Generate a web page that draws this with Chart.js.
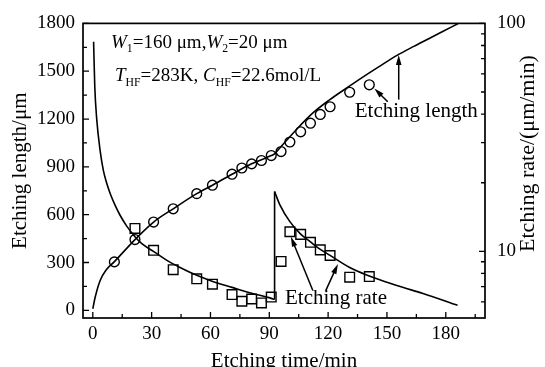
<!DOCTYPE html>
<html><head><meta charset="utf-8">
<script src="https://cdn.jsdelivr.net/npm/chart.js@4.4.1/dist/chart.umd.min.js"></script>
<style>html,body{margin:0;padding:0;background:#fff;}#wrap{width:545px;height:367px;}</style>
</head><body><div id="wrap"><canvas id="c" width="545" height="367"></canvas></div>
<script>
// ---- tick values ----
const xTicks = [0, 30, 60, 90, 120, 150, 180];
const xMinorTicks = [15, 45, 75, 105, 135, 165, 195];
const yLeftTicks = [0, 300, 600, 900, 1200, 1500, 1800];
const yLeftMinorTicks = [150, 450, 750, 1050, 1350, 1650];
const yRightTicks = [10, 100];
const yRightMinorTicks = [6, 7, 8, 9, 20, 30, 40, 50, 60, 70, 80, 90];

// ---- measured points ----
const sampleTime = [11, 21.5, 31, 41, 53, 61, 71, 76, 81, 86, 91, 96, 100.5, 106, 111, 116, 121, 131, 141];
const lengthMeasured = [304, 444, 554, 637, 732, 785, 854, 893, 919, 940, 971, 996, 1056, 1120, 1174, 1229, 1277, 1368, 1415];
const rateTime = [21.5, 31, 41, 53, 61, 71, 76, 81, 86, 91, 96, 100.5, 106, 111, 116, 121, 131, 141];
const rateMeasured = [12.6, 10.1, 8.31, 7.58, 7.18, 6.46, 6.04, 6.18, 5.94, 6.30, 9.03, 12.19, 11.87, 10.96, 10.15, 9.59, 7.70, 7.75];

// ---- model curves ----
const lengthModelTime = [0, 1.2, 3.7, 7.1, 10.9, 21.5, 31, 41, 53, 61, 71, 81, 91, 92.7, 95.5, 104.1, 112.4, 120.9, 129.5, 137.7, 146.4, 154.9, 163.7, 171.8, 178.9, 186.2];
const lengthModel = [10, 82, 186, 258, 304, 444, 554, 637, 732, 785, 854, 919, 971, 982, 1020, 1138, 1240, 1322, 1395, 1463, 1532, 1598, 1656, 1707, 1752, 1798];
const rateModelTime1 = [0.4, 1, 2, 3.7, 5.4, 7.1, 9, 11.4, 13.9, 17.3, 21.5, 25, 31.3, 38, 44.5, 53, 60.8, 71, 81, 90.3, 92.7];
const rateModel1 = [83, 53, 38, 27.8, 22.6, 19.9, 17.8, 15.9, 14.4, 12.9, 11.6, 10.8, 9.95, 9.1, 8.5, 7.85, 7.4, 6.95, 6.55, 6.25, 6.15];
const rateJumpTime = [92.7, 92.7];
const rateJump = [6.15, 18.3];
const rateModelTime2 = [92.7, 95.4, 100.5, 106, 111, 116, 121, 131, 141, 146.3, 158, 168, 186];
const rateModel2 = [18.3, 16.0, 13.5, 11.9, 11.0, 10.2, 9.6, 8.5, 7.8, 7.5, 6.95, 6.55, 5.8];

const FONT = '"Liberation Serif", "Times New Roman", serif';
const pts = (xs, ys) => xs.map((x, i) => ({x: x, y: ys[i]}));

const curveStyle = {showLine: true, pointRadius: 0, borderColor: '#000', borderWidth: 1.6, cubicInterpolationMode: 'monotone', fill: false};

function arrow(ctx, x1, y1, x2, y2) {
  const a = Math.atan2(y2 - y1, x2 - x1), L = 10, W = 2.8;
  ctx.beginPath(); ctx.moveTo(x1, y1); ctx.lineTo(x2 - Math.cos(a) * L * 0.6, y2 - Math.sin(a) * L * 0.6); ctx.stroke();
  ctx.beginPath();
  ctx.moveTo(x2, y2);
  ctx.lineTo(x2 - Math.cos(a) * L + Math.sin(a) * W, y2 - Math.sin(a) * L - Math.cos(a) * W);
  ctx.lineTo(x2 - Math.cos(a) * L - Math.sin(a) * W, y2 - Math.sin(a) * L + Math.cos(a) * W);
  ctx.closePath(); ctx.fill();
}
function rich(ctx, x, y, parts, size) {
  for (const p of parts) {
    const s = p.sub ? size * 0.62 : size;
    ctx.font = (p.it ? 'italic ' : '') + s + 'px ' + FONT;
    ctx.fillText(p.t, x, y + (p.sub ? size * 0.22 : 0));
    x += ctx.measureText(p.t).width;
  }
}

const decor = {
  id: 'decor',
  afterDatasetsDraw(chart) {
    const {ctx, chartArea: a, scales: {x, y, y1}} = chart;
    ctx.save();
    ctx.strokeStyle = '#000'; ctx.fillStyle = '#000'; ctx.lineWidth = 1.7;
    ctx.strokeRect(a.left, a.top, a.right - a.left, a.bottom - a.top);
    ctx.beginPath();
    const tick = (v, len, axis) => {
      if (axis === 'x') { const p = x.getPixelForValue(v); ctx.moveTo(p, a.bottom); ctx.lineTo(p, a.bottom - len); }
      if (axis === 'y') { const p = y.getPixelForValue(v); ctx.moveTo(a.left, p); ctx.lineTo(a.left + len, p); }
      if (axis === 'y1') { const p = y1.getPixelForValue(v); ctx.moveTo(a.right, p); ctx.lineTo(a.right - len, p); }
    };
    xTicks.forEach(v => tick(v, 6, 'x')); xMinorTicks.forEach(v => tick(v, 4, 'x'));
    yLeftTicks.forEach(v => tick(v, 6, 'y')); yLeftMinorTicks.forEach(v => tick(v, 4, 'y'));
    yRightTicks.forEach(v => tick(v, 6, 'y1')); yRightMinorTicks.forEach(v => tick(v, 4, 'y1'));
    ctx.lineWidth = 1.3; ctx.stroke();

    // parameter text
    ctx.textBaseline = 'alphabetic'; ctx.textAlign = 'left';
    rich(ctx, a.left + 28, a.top + 24.5, [{t: 'W', it: true}, {t: '1', sub: true}, {t: '=160 \u03bcm,'}, {t: 'W', it: true}, {t: '2', sub: true}, {t: '=20 \u03bcm'}], 19);
    rich(ctx, a.left + 32, a.top + 58, [{t: 'T', it: true}, {t: 'HF', sub: true}, {t: '=283K, '}, {t: 'C', it: true}, {t: 'HF', sub: true}, {t: '=22.6mol/L'}], 19);

    // annotations
    ctx.font = '21px ' + FONT; ctx.textBaseline = 'middle';
    ctx.fillText('Etching length', x.getPixelForValue(133.6), y.getPixelForValue(1246));
    ctx.fillText('Etching rate', x.getPixelForValue(98), y.getPixelForValue(74));
    ctx.lineWidth = 1.5;
    const P = (t, L) => [x.getPixelForValue(t), y.getPixelForValue(L)];
    arrow(ctx, ...P(150.4, 1308), ...P(143.6, 1392));
    arrow(ctx, ...P(156, 1322), ...P(156, 1602));
    arrow(ctx, ...P(112.2, 124), ...P(101, 462));
    arrow(ctx, ...P(118.8, 124), ...P(125, 291));

    // right axis title
    ctx.save();
    ctx.translate(528, 252); ctx.rotate(-Math.PI / 2);
    ctx.font = '22px ' + FONT; ctx.textAlign = 'left'; ctx.textBaseline = 'middle';
    ctx.fillText('Etching rate/(\u03bcm/min)', 0, 0);
    ctx.restore();
    ctx.restore();
  }
};

new Chart(document.getElementById('c'), {
  type: 'scatter',
  data: {datasets: [
    Object.assign({data: pts(lengthModelTime, lengthModel), yAxisID: 'y'}, curveStyle),
    Object.assign({data: pts(rateModelTime1, rateModel1), yAxisID: 'y1'}, curveStyle),
    Object.assign({data: pts(rateJumpTime, rateJump), yAxisID: 'y1'}, curveStyle, {cubicInterpolationMode: 'default', tension: 0}),
    Object.assign({data: pts(rateModelTime2, rateModel2), yAxisID: 'y1'}, curveStyle),
    {data: pts(sampleTime, lengthMeasured), yAxisID: 'y', pointStyle: 'circle', pointRadius: 4.9, borderColor: '#000', borderWidth: 1.4, backgroundColor: 'rgba(0,0,0,0)', showLine: false},
    {data: pts(rateTime, rateMeasured), yAxisID: 'y1', pointStyle: 'rect', pointRadius: 6.8, borderColor: '#000', borderWidth: 1.4, backgroundColor: 'rgba(0,0,0,0)', showLine: false}
  ]},
  options: {
    responsive: false, animation: false, events: [],
    layout: {padding: {top: 20, left: 0, right: 0, bottom: 0}},
    plugins: {legend: {display: false}, tooltip: {enabled: false}},
    scales: {
      x: {type: 'linear', min: -5, max: 200,
        afterBuildTicks: s => { s.ticks = xTicks.map(v => ({value: v})); },
        afterFit: s => { s.height = 49; },
        grid: {display: false, drawTicks: false}, border: {display: false},
        ticks: {padding: 4.6, color: '#000', font: {family: FONT, size: 19}, maxRotation: 0, autoSkip: false, callback: v => String(v)},
        title: {display: true, text: 'Etching time/min', color: '#000', font: {family: FONT, size: 21, lineHeight: 0.5}, padding: {top: 0, bottom: 0.75}}
      },
      y: {type: 'linear', position: 'left', min: -48, max: 1800,
        afterBuildTicks: s => { s.ticks = yLeftTicks.map(v => ({value: v})); },
        afterFit: s => { s.width = 83; },
        grid: {display: false, drawTicks: false}, border: {display: false},
        ticks: {padding: 8, color: '#000', font: {family: FONT, size: 19}, autoSkip: false, callback: v => String(v)},
        title: {display: true, text: 'Etching length/\u03bcm', color: '#000', font: {family: FONT, size: 21, lineHeight: 1}, padding: {top: 9.5, bottom: 0}}
      },
      y1: {type: 'logarithmic', position: 'right', min: 5.1, max: 100,
        afterBuildTicks: s => { s.ticks = yRightTicks.map(v => ({value: v})); },
        afterFit: s => { s.width = 60; },
        grid: {display: false, drawTicks: false}, border: {display: false},
        ticks: {padding: 12, color: '#000', font: {family: FONT, size: 19}, autoSkip: false, callback: v => String(v)}
      }
    }
  },
  plugins: [decor]
});
</script></body></html>
